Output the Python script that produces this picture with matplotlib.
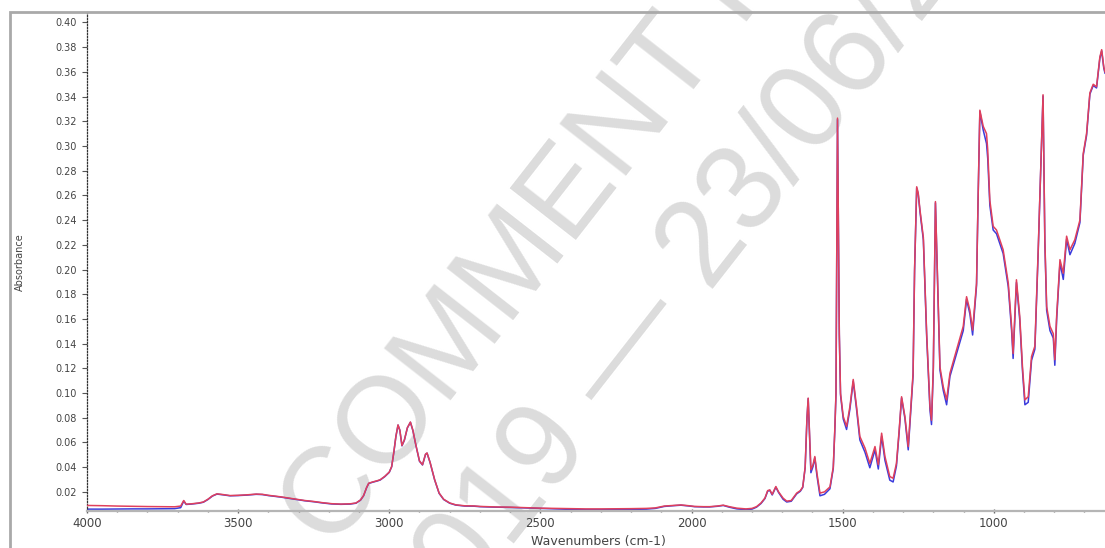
import matplotlib
matplotlib.use("Agg")
import matplotlib.pyplot as plt
from matplotlib.patches import Rectangle
from matplotlib.ticker import MultipleLocator, FixedLocator

# Spectre IR : nombre d'onde (cm-1) et absorbance des deux mesures
wavenumbers = [
    4000, 3950, 3900, 3850, 3800, 3750, 3710, 3690, 3680, 3672, 3655, 3630, 3615, 3600,
    3585, 3570, 3550, 3527, 3500, 3470, 3440, 3420, 3400, 3360, 3320, 3280, 3250, 3220,
    3190, 3160, 3130, 3110, 3095, 3085, 3075, 3068, 3055, 3040, 3030, 3015, 3000, 2992,
    2985, 2978, 2971, 2965, 2958, 2950, 2940, 2930, 2922, 2912, 2900, 2890, 2880, 2875,
    2865, 2850, 2835, 2820, 2800, 2780, 2750, 2720, 2700, 2650, 2600, 2550, 2500, 2450,
    2400, 2350, 2300, 2250, 2200, 2150, 2120, 2090, 2060, 2035, 2010, 1990, 1960, 1940,
    1915, 1895, 1875, 1850, 1820, 1800, 1785, 1770, 1757, 1748, 1741, 1733, 1721, 1712,
    1697, 1685, 1670, 1652, 1640, 1632, 1624, 1618, 1614, 1610, 1605, 1598, 1592, 1585,
    1575, 1560, 1542, 1531, 1526, 1522, 1517, 1514, 1511, 1507, 1498, 1487, 1476, 1465,
    1454, 1443, 1426, 1410, 1393, 1382, 1371, 1360, 1344, 1333, 1322, 1313, 1305, 1294,
    1283, 1267, 1262, 1255, 1250, 1244, 1233, 1222, 1211, 1206, 1200, 1193, 1184, 1178,
    1167, 1156, 1145, 1123, 1101, 1090, 1079, 1070, 1057, 1052, 1046, 1035, 1024, 1020,
    1013, 1002, 991, 969, 952, 941, 936, 925, 914, 905, 897, 886, 875, 864, 853, 848,
    837, 831, 825, 814, 803, 798, 792, 781, 770, 759, 748, 732, 715, 704, 693, 682, 671,
    660, 649, 643, 636, 632,
]

absorbance_red = [
    0.0090, 0.0088, 0.0085, 0.0083, 0.0081, 0.0080, 0.0079, 0.0085, 0.0130, 0.0100, 0.0103, 0.0110, 0.0118, 0.0140,
    0.0168, 0.0184, 0.0178, 0.0170, 0.0172, 0.0176, 0.0182, 0.0180, 0.0172, 0.0160, 0.0145, 0.0130, 0.0122, 0.0112,
    0.0104, 0.0101, 0.0103, 0.0110, 0.0135, 0.0170, 0.0235, 0.0270, 0.0280, 0.0290, 0.0298, 0.0325, 0.0360, 0.0405,
    0.0520, 0.0650, 0.0742, 0.0700, 0.0575, 0.0620, 0.0720, 0.0765, 0.0700, 0.0580, 0.0450, 0.0420, 0.0505, 0.0515,
    0.0440, 0.0300, 0.0190, 0.0140, 0.0110, 0.0095, 0.0087, 0.0086, 0.0082, 0.0078, 0.0076, 0.0072, 0.0068, 0.0066,
    0.0064, 0.0062, 0.0062, 0.0063, 0.0064, 0.0066, 0.0070, 0.0085, 0.0090, 0.0094, 0.0088, 0.0082, 0.0080, 0.0080,
    0.0085, 0.0092, 0.0080, 0.0068, 0.0062, 0.0066, 0.0080, 0.0110, 0.0150, 0.0210, 0.0216, 0.0180, 0.0243, 0.0200,
    0.0149, 0.0125, 0.0130, 0.0190, 0.0210, 0.0240, 0.0400, 0.0800, 0.0959, 0.0700, 0.0380, 0.0420, 0.0486, 0.0350,
    0.0190, 0.0200, 0.0240, 0.0400, 0.0700, 0.1000, 0.3226, 0.2400, 0.1480, 0.0999, 0.0810, 0.0730, 0.0890, 0.1110,
    0.0890, 0.0648, 0.0554, 0.0430, 0.0567, 0.0420, 0.0675, 0.0486, 0.0324, 0.0310, 0.0430, 0.0700, 0.0970, 0.0810,
    0.0567, 0.1160, 0.2000, 0.2670, 0.2620, 0.2480, 0.2260, 0.1480, 0.0890, 0.0780, 0.1210, 0.2550, 0.1750, 0.1210,
    0.1050, 0.0945, 0.1160, 0.1350, 0.1540, 0.1780, 0.1670, 0.1510, 0.1890, 0.2560, 0.3290, 0.3160, 0.3100, 0.2970,
    0.2560, 0.2350, 0.2320, 0.2160, 0.1890, 0.1540, 0.1320, 0.1917, 0.1620, 0.1210, 0.0945, 0.0970, 0.1296, 0.1380, 0.2160, 0.2560,
    0.3415, 0.2240, 0.1700, 0.1540, 0.1480, 0.1270, 0.1620, 0.2080, 0.1970, 0.2270, 0.2160, 0.2240, 0.2400, 0.2940, 0.3100, 0.3430, 0.3500,
    0.3480, 0.3720, 0.3780, 0.3640, 0.3600,
]

absorbance_blue = [
    0.0060, 0.0060, 0.0061, 0.0062, 0.0062, 0.0063, 0.0064, 0.0072, 0.0125, 0.0098, 0.0101, 0.0108, 0.0116, 0.0138,
    0.0166, 0.0182, 0.0176, 0.0168, 0.0170, 0.0174, 0.0180, 0.0178, 0.0170, 0.0158, 0.0143, 0.0128, 0.0120, 0.0110,
    0.0102, 0.0099, 0.0101, 0.0108, 0.0133, 0.0168, 0.0233, 0.0268, 0.0278, 0.0288, 0.0296, 0.0323, 0.0358, 0.0403,
    0.0518, 0.0648, 0.0740, 0.0698, 0.0573, 0.0618, 0.0718, 0.0763, 0.0698, 0.0578, 0.0448, 0.0418, 0.0503, 0.0513,
    0.0438, 0.0298, 0.0188, 0.0138, 0.0108, 0.0093, 0.0085, 0.0084, 0.0080, 0.0076, 0.0074, 0.0070, 0.0066, 0.0062,
    0.0058, 0.0056, 0.0056, 0.0057, 0.0058, 0.0060, 0.0066, 0.0082, 0.0088, 0.0092, 0.0086, 0.0080, 0.0078, 0.0078,
    0.0083, 0.0090, 0.0076, 0.0062, 0.0056, 0.0060, 0.0076, 0.0106, 0.0146, 0.0206, 0.0212, 0.0175, 0.0238, 0.0195,
    0.0140, 0.0118, 0.0124, 0.0184, 0.0205, 0.0236, 0.0396, 0.0796, 0.0955, 0.0690, 0.0355, 0.0405, 0.0475, 0.0330,
    0.0168, 0.0180, 0.0225, 0.0390, 0.0690, 0.0990, 0.3215, 0.2390, 0.1470, 0.0985, 0.0790, 0.0705, 0.0870, 0.1095,
    0.0870, 0.0620, 0.0520, 0.0395, 0.0540, 0.0385, 0.0650, 0.0455, 0.0295, 0.0280, 0.0410, 0.0685, 0.0960, 0.0795,
    0.0540, 0.1140, 0.1990, 0.2660, 0.2610, 0.2465, 0.2240, 0.1460, 0.0860, 0.0745, 0.1190, 0.2540, 0.1730, 0.1185,
    0.1020, 0.0905, 0.1135, 0.1320, 0.1505, 0.1760, 0.1640, 0.1470, 0.1870, 0.2550, 0.3280, 0.3130, 0.3020, 0.2900,
    0.2520, 0.2320, 0.2290, 0.2130, 0.1860, 0.1505, 0.1280, 0.1895, 0.1590, 0.1180, 0.0905, 0.0925, 0.1265, 0.1355, 0.2140, 0.2545,
    0.3405, 0.2215, 0.1670, 0.1505, 0.1445, 0.1225, 0.1595, 0.2055, 0.1920, 0.2245, 0.2120, 0.2210, 0.2380, 0.2925, 0.3085, 0.3420, 0.3490,
    0.3470, 0.3710, 0.3770, 0.3630, 0.3590,
]

y_ticks = [0.02, 0.04, 0.06, 0.08, 0.10, 0.12, 0.14, 0.16, 0.18, 0.20,
           0.22, 0.24, 0.26, 0.28, 0.30, 0.32, 0.34, 0.36, 0.38, 0.40]
x_ticks = [4000, 3500, 3000, 2500, 2000, 1500, 1000]

W, H = 1105, 548
fig = plt.figure(figsize=(W / 100, H / 100), dpi=100)
ax = fig.add_axes([87 / W, 1 - 511 / H, (W - 87) / W, (511 - 12) / H])

ax.plot(wavenumbers, absorbance_blue, color="#3b3bdc", lw=1.1, zorder=2)
ax.plot(wavenumbers, absorbance_red, color="#e0405c", lw=1.1, zorder=3)

ax.set_xlim(4000, 632)
ax.set_ylim(0.0045, 0.4085)

# axes
ax.spines["top"].set_visible(False)
ax.spines["right"].set_visible(False)
ax.spines["left"].set_linestyle((0, (1, 1.4)))
ax.spines["left"].set_color("#333333")
ax.spines["left"].set_linewidth(0.9)
ax.spines["bottom"].set_color("#b5b5b5")
ax.spines["bottom"].set_linewidth(1.6)

ax.yaxis.set_major_locator(FixedLocator(y_ticks))
ax.set_yticklabels([f"{v:.2f}" for v in y_ticks])
ax.tick_params(axis="y", direction="out", length=3.5, width=0.8, color="#555555",
               labelsize=7, labelcolor="#444444", pad=4)

ax.xaxis.set_major_locator(FixedLocator(x_ticks))
ax.xaxis.set_minor_locator(MultipleLocator(100))
ax.tick_params(axis="x", which="major", direction="inout", length=3, width=1.0,
               color="#666666", labelsize=8.5, labelcolor="#444444", pad=2.5)
ax.tick_params(axis="x", which="minor", direction="inout", length=2, width=1.0,
               color="#777777")

fig.text(20 / W, 1 - 262 / H, "Absorbance", rotation=90, ha="center", va="center",
         fontsize=7, color="#444444")
fig.text(598 / W, 1 - 541 / H, "Wavenumbers (cm-1)", ha="center", va="center",
         fontsize=9, color="#444444")

# cadre gris
fig.add_artist(Rectangle((10 / W, -0.05), 1.2, (H - 12) / H + 0.05, transform=fig.transFigure,
                         fill=False, ec="#a9a9a9", lw=2.0, zorder=5))

# filigrane
wm = dict(transform=fig.transFigure, rotation=52, rotation_mode="anchor", ha="left",
          va="baseline", fontsize=88, color="#dcdcdc", family="Liberation Sans",
          zorder=1, clip_on=False)
ax.text(332 / W, 1 - 552 / H, "COMMENT IR", **wm)
ax.text(425 / W, 1 - 657 / H, "2019 \u2014 23/06/2019", **wm)

fig.savefig("out.png", dpi=100)
